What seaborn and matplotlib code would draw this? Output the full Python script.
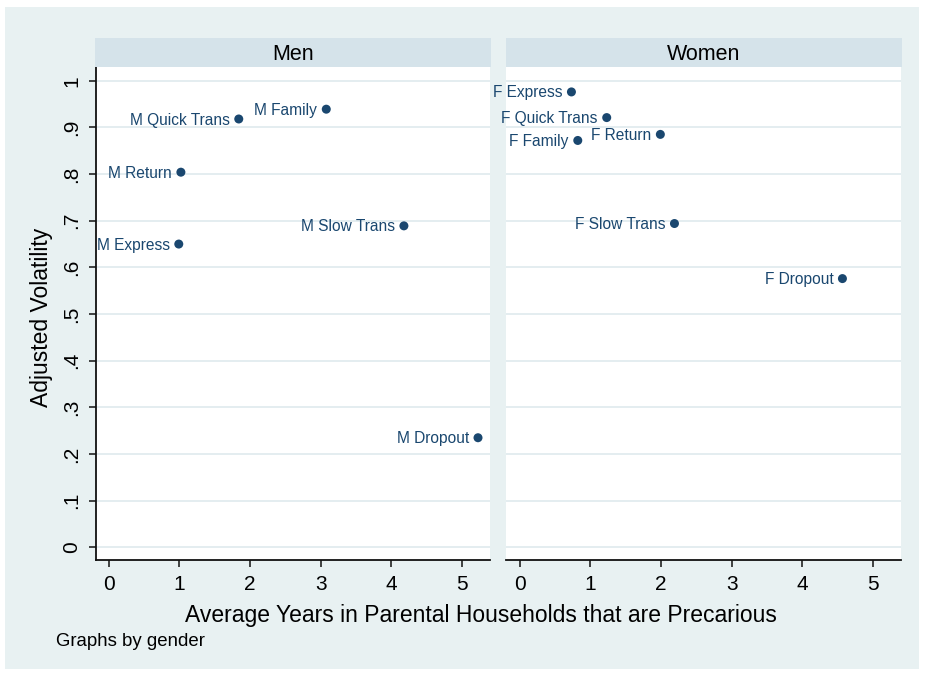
import matplotlib
matplotlib.use("Agg")
import matplotlib.pyplot as plt
import seaborn as sns
import pandas as pd
from matplotlib.patches import Rectangle

# ---------------- data ----------------
panels = ["Men", "Women"]

men_labels = ["M Express", "M Return", "M Quick Trans", "M Family", "M Slow Trans", "M Dropout"]
men_x = [0.99, 1.02, 1.84, 3.08, 4.18, 5.23]
men_y = [0.650, 0.804, 0.918, 0.939, 0.689, 0.235]

women_labels = ["F Express", "F Quick Trans", "F Family", "F Return", "F Slow Trans", "F Dropout"]
women_x = [0.73, 1.23, 0.82, 1.99, 2.19, 4.57]
women_y = [0.976, 0.921, 0.872, 0.885, 0.694, 0.576]

x_ticks = [0, 1, 2, 3, 4, 5]
y_ticks = [0, 0.1, 0.2, 0.3, 0.4, 0.5, 0.6, 0.7, 0.8, 0.9, 1.0]
y_tick_labels = ["0", ".1", ".2", ".3", ".4", ".5", ".6", ".7", ".8", ".9", "1"]

x_title = "Average Years in Parental Households that are Precarious"
y_title = "Adjusted Volatility"
note = "Graphs by gender"

df = pd.DataFrame({
    "gender": ["Men"] * len(men_x) + ["Women"] * len(women_x),
    "label": men_labels + women_labels,
    "years": men_x + women_x,
    "volatility": men_y + women_y,
})

# ---------------- style ----------------
sns.set_theme(style="white")
plt.rcParams["font.family"] = ["Liberation Sans", "DejaVu Sans"]

BG = "#e8f1f2"
STRIP = "#d5e3ea"
GRID = "#e2ecef"
NAVY = "#1a476f"
AXC = "#111111"

W, H = 925, 673
fig = plt.figure(figsize=(W / 100, H / 100), dpi=100)
fig.patch.set_facecolor("white")
fig.patches.append(Rectangle((5 / W, 1 - 669 / H), (919 - 5) / W, (669 - 7) / H,
                             transform=fig.transFigure, facecolor=BG,
                             edgecolor="none", zorder=-10))

panel_px = {"Men": (95.5, 490.0), "Women": (506.5, 901.0)}
top_px, bot_px, strip_top_px = 67.0, 560.0, 38.0

for name in panels:
    l, r = panel_px[name]
    ax = fig.add_axes([l / W, 1 - bot_px / H, (r - l) / W, (bot_px - top_px) / H])
    ax.set_facecolor("white")
    sub = df[df["gender"] == name]
    sns.scatterplot(data=sub, x="years", y="volatility", ax=ax, s=42,
                    color=NAVY, edgecolor="none", zorder=3, legend=False)
    for _, row in sub.iterrows():
        ax.annotate(row["label"], (row["years"], row["volatility"]),
                    xytext=(-6.5, -4.0), textcoords="offset points",
                    ha="right", va="baseline", fontsize=11.2, color=NAVY,
                    zorder=4, annotation_clip=False)
    ax.set_xlim(-0.19, 5.40)
    ax.set_ylim(-0.027, 1.0294)
    ax.set_xticks(x_ticks)
    ax.set_xticklabels([str(t) for t in x_ticks], fontsize=15)
    ax.set_yticks(y_ticks)
    for yv in y_ticks:
        ax.axhline(yv, color=GRID, lw=1.3, zorder=1)
    ax.set_xlabel("")
    ax.set_ylabel("")
    for s in ["top", "right"]:
        ax.spines[s].set_visible(False)
    ax.spines["bottom"].set_color(AXC)
    ax.spines["bottom"].set_linewidth(1.3)
    ax.tick_params(axis="x", direction="out", length=5, width=1.1,
                   color=AXC, pad=6, labelcolor="black", bottom=True)
    if name == "Men":
        ax.spines["left"].set_color(AXC)
        ax.spines["left"].set_linewidth(1.3)
        ax.set_yticklabels(y_tick_labels, fontsize=15, rotation=90, va="center")
        ax.tick_params(axis="y", direction="out", length=5, width=1.1,
                       color=AXC, pad=5, labelcolor="black", left=True)
    else:
        ax.spines["left"].set_visible(False)
        ax.set_yticklabels([])
        ax.tick_params(axis="y", left=False)
    ax.grid(False)

    # strip header
    sax = fig.add_axes([(l - 1) / W, 1 - top_px / H, (r - l + 2) / W, (top_px - strip_top_px) / H])
    sax.set_facecolor(STRIP)
    sax.set_xticks([])
    sax.set_yticks([])
    for s in sax.spines.values():
        s.set_visible(False)
    sax.text(0.5, (67 - 60) / (top_px - strip_top_px), name, ha="center",
             va="baseline", fontsize=15.5, color="black", transform=sax.transAxes)

fig.text(481 / W, 1 - 622 / H, x_title, ha="center", va="baseline",
         fontsize=16.5, color="black")
fig.text(48 / W, 1 - 317.5 / H, y_title, ha="center", va="baseline",
         rotation=90, rotation_mode="anchor", fontsize=16.5, color="black")
fig.text(56 / W, 1 - 646 / H, note, ha="left", va="baseline",
         fontsize=13.4, color="black")

fig.savefig("out.png", dpi=100, facecolor=fig.get_facecolor())
